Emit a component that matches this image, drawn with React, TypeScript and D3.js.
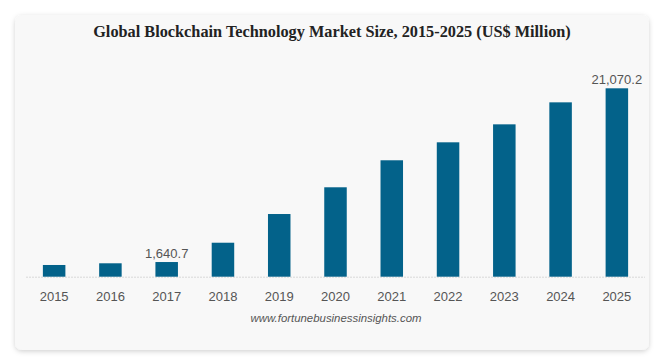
import React from "react";
import * as d3 from "d3";

const years = ["2015", "2016", "2017", "2018", "2019", "2020", "2021", "2022", "2023", "2024", "2025"];
const values = [1310, 1500, 1640.7, 3800, 7010, 10000, 13020, 15030, 17040, 19500, 21070.2];
const labeledYears = ["2017", "2025"];
const title = "Global Blockchain Technology Market Size, 2015-2025 (US$ Million)";
const source = "www.fortunebusinessinsights.com";

const W = 664;
const H = 360;

export default function App() {
  const x = d3.scaleBand<string>().domain(years).range([26, 645]).paddingInner(0.6).paddingOuter(0.3);
  const baseY = 276.7;
  const y = d3.scaleLinear().domain([0, 21070.2]).range([baseY, 88.3]);
  const fmt = d3.format(",.1f");
  const sans = "'Liberation Sans', Arial, Helvetica, sans-serif";
  return (
    <svg width={W} height={H} style={{ position: "absolute", left: 0, top: 0, background: "#fff" }}>
      <defs>
        <filter id="sh" x="-5%" y="-5%" width="110%" height="115%">
          <feDropShadow dx="0" dy="1.5" stdDeviation="2.5" floodColor="#000" floodOpacity="0.18" />
        </filter>
      </defs>
      <rect x={15} y={15} width={634} height={335} rx={7} fill="#f8f8f8" filter="url(#sh)" />
      <text x={332} y={37} textAnchor="middle" fontFamily="'Liberation Serif', 'Times New Roman', serif" fontWeight="bold" fontSize={16.3} fill="#222">
        {title}
      </text>
      <line x1={26} x2={645} y1={baseY + 0.5} y2={baseY + 0.5} stroke="#d8d8d8" strokeDasharray="2,1" />
      {years.map((yr, i) => (
        <g key={yr}>
          <rect x={x(yr)} y={y(values[i])} width={x.bandwidth()} height={baseY - y(values[i])} fill="#03628a" />
          <text x={(x(yr) as number) + x.bandwidth() / 2} y={300.5} textAnchor="middle" fontFamily={sans} fontSize={13} fill="#555">
            {yr}
          </text>
          {labeledYears.includes(yr) && (
            <text x={(x(yr) as number) + x.bandwidth() / 2} y={y(values[i]) - 4} textAnchor="middle" fontFamily={sans} fontSize={13} fill="#555">
              {fmt(values[i])}
            </text>
          )}
        </g>
      ))}
      <text x={336} y={322} textAnchor="middle" fontFamily={sans} fontStyle="italic" fontSize={11.4} fill="#555">
        {source}
      </text>
    </svg>
  );
}
